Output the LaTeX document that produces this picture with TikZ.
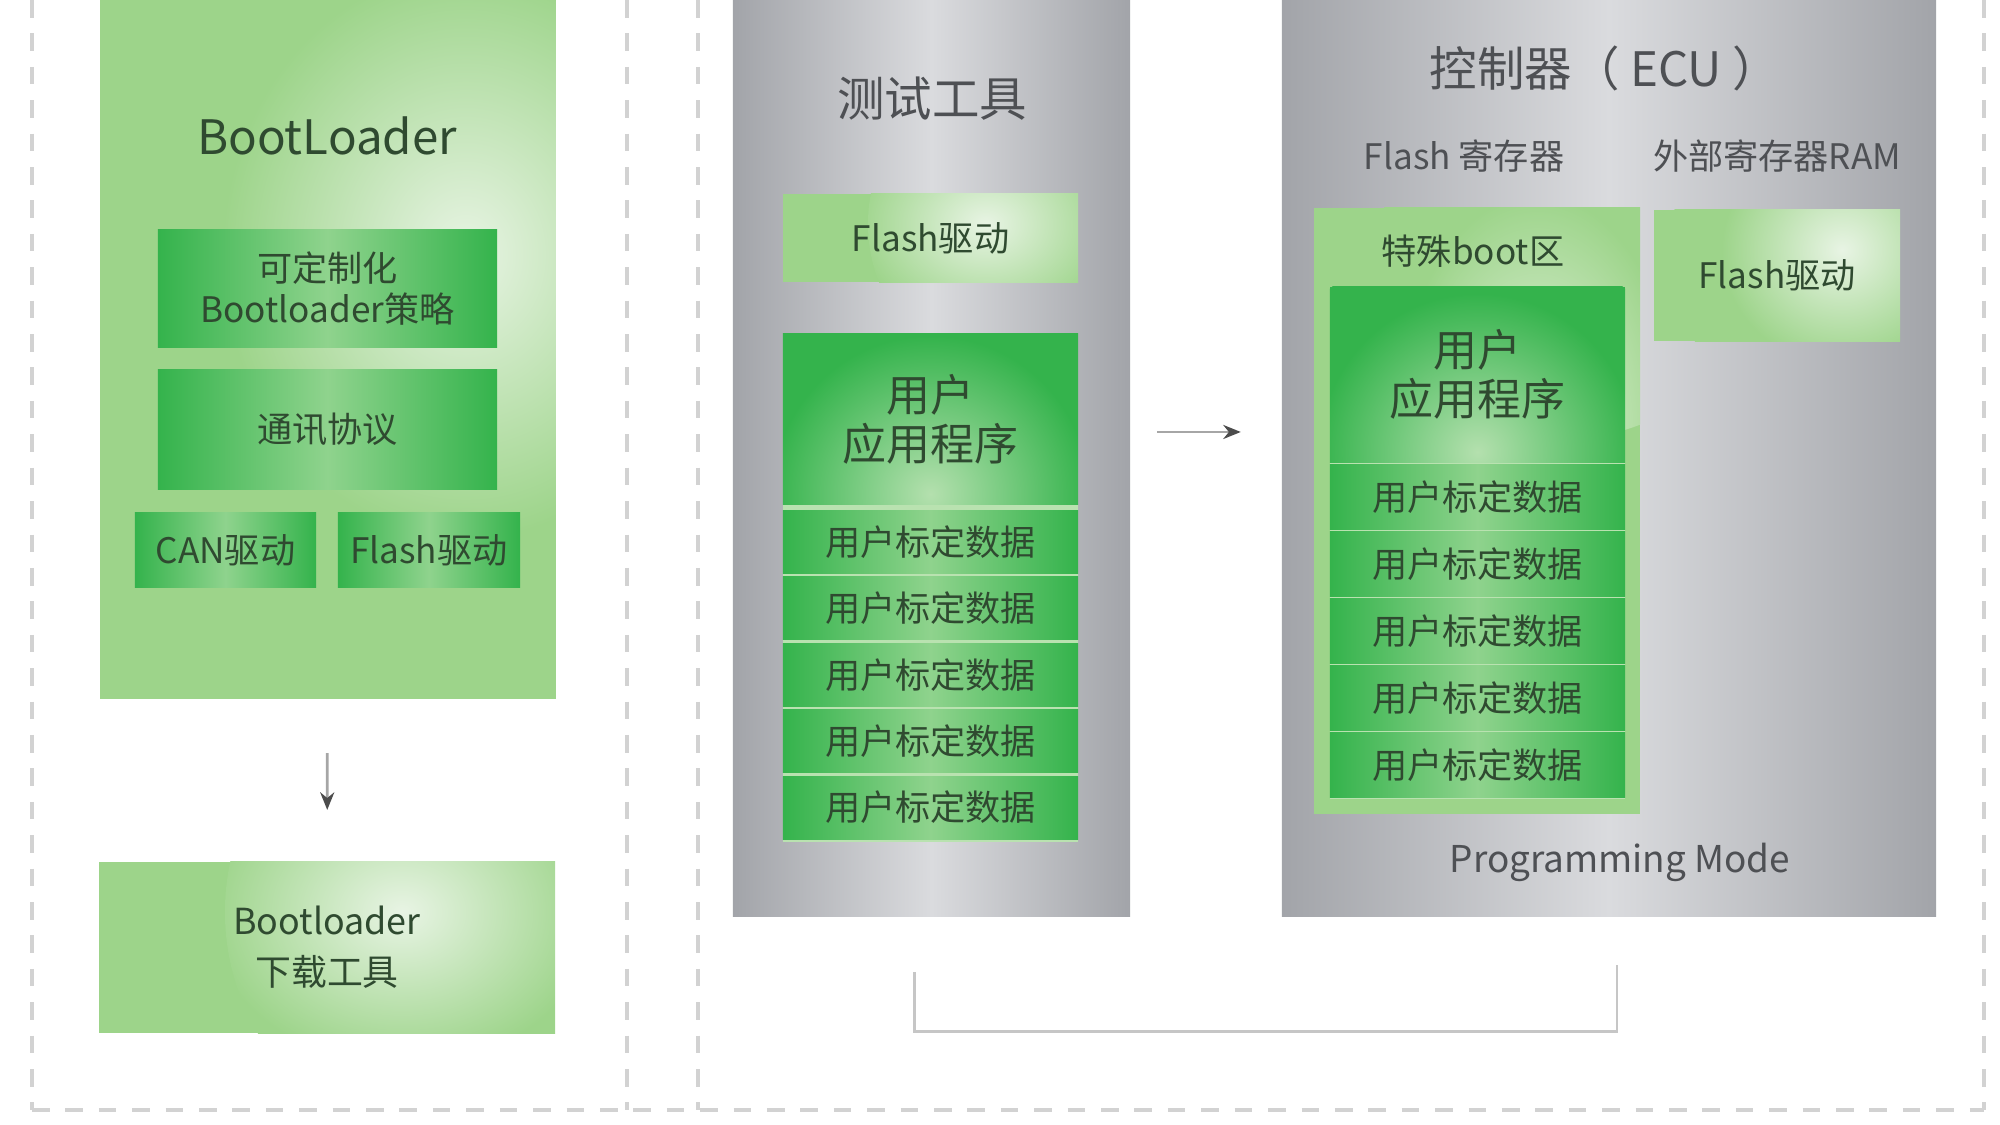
\documentclass[tikz,border=0pt]{standalone}
\usepackage{fontspec}
\setmainfont{Noto Sans CJK SC}
\usepackage{tikz}
\usetikzlibrary{arrows.meta}

\definecolor{lgreen}{HTML}{9DD48A}
\definecolor{hlgreen}{HTML}{E8F4E4}
\definecolor{dgreen}{HTML}{34B34C}
\definecolor{mgreen}{HTML}{8FD38D}
\definecolor{glowgreen}{HTML}{B4E0AE}
\definecolor{sepgreen}{HTML}{B9E2B0}
\definecolor{grayedge}{HTML}{A2A4A9}
\definecolor{graymid}{HTML}{DADBDE}
\definecolor{txtgreen}{HTML}{2F4A30}
\definecolor{txtgray}{HTML}{4E5054}

\pgfdeclareradialshading{hilite}{\pgfpointorigin}{%
  color(0bp)=(hlgreen); color(16bp)=(lgreen); color(50bp)=(lgreen)}
\pgfdeclareradialshading{appglow}{\pgfpointorigin}{%
  color(0bp)=(glowgreen); color(18bp)=(dgreen); color(50bp)=(dgreen)}

\begin{document}
\begin{tikzpicture}[
  x=0.01cm, y=-0.01cm,
  every node/.style={inner sep=0pt, outer sep=0pt},
  litebox/.style n args={3}{
    rectangle, fill=lgreen, text=txtgreen,
    path picture={
      \shade[shading=hilite]
        ([xshift=#1, yshift=#2]path picture bounding box.north east)
        circle [radius=#3];}},
  darkbox/.style={
    rectangle, left color=dgreen, right color=dgreen, middle color=mgreen,
    text=txtgreen, font=\fontsize{10}{12}\selectfont},
  appbox/.style={
    rectangle, fill=dgreen, text=txtgreen, align=center,
    font=\fontsize{12.5}{14}\selectfont,
    path picture={
      \shade[shading=appglow]
        ([yshift=0.1cm]path picture bounding box.south)
        circle [radius=2.2cm];}},
  graybox/.style={
    rectangle, left color=grayedge, right color=grayedge, middle color=graymid},
  title/.style={text=txtgray, font=\fontsize{13.5}{16}\selectfont},
  sublabel/.style={text=txtgray, font=\fontsize{10}{12}\selectfont},
  guide/.style={draw=gray!35, line width=1.2pt, dash pattern=on 5pt off 4.5pt},
  flow/.style={draw=gray!70, line width=0.8pt,
    -{Stealth[length=5pt, width=4pt, color=black!70]}},
  bracket/.style={draw=gray!45, line width=0.8pt}
]
\useasboundingbox (0,0) rectangle (2000,1125);

% dashed frame
\draw[guide] (32,0) -- (32,1110);
\draw[guide] (627,0) -- (627,1110);
\draw[guide] (698,0) -- (698,1110);
\draw[guide] (1984,0) -- (1984,1110);
\draw[guide] (32,1110) -- (1984,1110);

% bootloader side
\node[litebox={-0.9cm}{-1.9cm}{3.8cm}, minimum width=4.55cm, minimum height=6.99cm]
  (boot) at (328,349.5) {};
\node[title, text=txtgreen] (bootTitle) at (327,136) {BootLoader};
\node[darkbox, minimum width=3.39cm, minimum height=1.17cm, align=center,
  font=\fontsize{10}{11.6}\selectfont]
  (strategy) at (327.5,288.5) {可定制化\\Bootloader策略};
\node[darkbox, minimum width=3.39cm, minimum height=1.19cm]
  (protocol) at (327.5,429.5) {通讯协议};
\node[darkbox, minimum width=1.81cm, minimum height=0.74cm]
  (can) at (225.5,550) {CAN驱动};
\node[darkbox, minimum width=1.82cm, minimum height=0.74cm]
  (flashA) at (429,550) {Flash驱动};
\node[litebox={-0.9cm}{-0.5cm}{2.4cm}, minimum width=4.56cm, minimum height=1.71cm,
  align=center, font=\fontsize{10.2}{14.5}\selectfont]
  (dltool) at (327,947.5) {Bootloader\\下载工具};
\draw[flow, shorten <=0.54cm, shorten >=0.52cm] (boot) -- (dltool);

% test tool
\node[graybox, minimum width=3.97cm, minimum height=9.16cm] (tool) at (931.5,458) {};
\node[title] (toolTitle) at (932,99) {测试工具};
\node[litebox={-0.5cm}{-0.3cm}{1.6cm}, minimum width=2.95cm, minimum height=0.88cm,
  font=\fontsize{10}{12}\selectfont]
  (flashB) at (930.5,238) {Flash驱动};
\fill[sepgreen] (783,334) rectangle (1078,842);
\node[appbox, minimum width=2.95cm, minimum height=1.70cm]
  (appA) at (930.5,419) {用户\\应用程序};
\foreach \i in {1,...,5}
  \node[darkbox, minimum width=2.95cm, minimum height=0.63cm]
    (dataA\i) at (930.5,{542+66.4*(\i-1)}) {用户标定数据};

% controller
\node[graybox, minimum width=6.54cm, minimum height=9.16cm] (ecu) at (1609,458) {};
\node[title] (ecuTitle) at (1605,68) {控制器（ ECU ）};
\node[sublabel] (flashLbl) at (1464,156) {Flash 寄存器};
\node[sublabel] (ramLbl) at (1777,156) {外部寄存器RAM};
\node[litebox={-0.7cm}{-0.4cm}{1.9cm}, minimum width=3.26cm, minimum height=6.06cm]
  (bootzone) at (1477,511) {};
\node[text=txtgreen, font=\fontsize{10}{12}\selectfont] (zoneLbl) at (1473,251) {特殊boot区};
\fill[sepgreen] (1330,287) rectangle (1625,799);
\node[appbox, minimum width=2.95cm, minimum height=1.75cm]
  (appB) at (1477.5,374.5) {用户\\应用程序};
\foreach \i in {1,...,5}
  \node[darkbox, minimum width=2.95cm, minimum height=0.64cm]
    (dataB\i) at (1477.5,{497+67*(\i-1)}) {用户标定数据};
\node[litebox={-0.5cm}{-0.4cm}{1.8cm}, minimum width=2.46cm, minimum height=1.31cm,
  font=\fontsize{10}{12}\selectfont]
  (flashC) at (1777,275.5) {Flash驱动};
\node[sublabel, font=\fontsize{10.5}{12}\selectfont] (modeLbl) at (1620,862) {Programming Mode};

\draw[flow, shorten <=0.27cm, shorten >=0.41cm]
  ([yshift=0.26cm]tool.east) -- ([yshift=0.26cm]ecu.west);
\draw[bracket] ([xshift=-0.17cm, yshift=-0.56cm]tool.south) -- ++(0,59)
  -| ([xshift=0.08cm, yshift=-0.49cm]ecu.south);
\end{tikzpicture}
\end{document}
